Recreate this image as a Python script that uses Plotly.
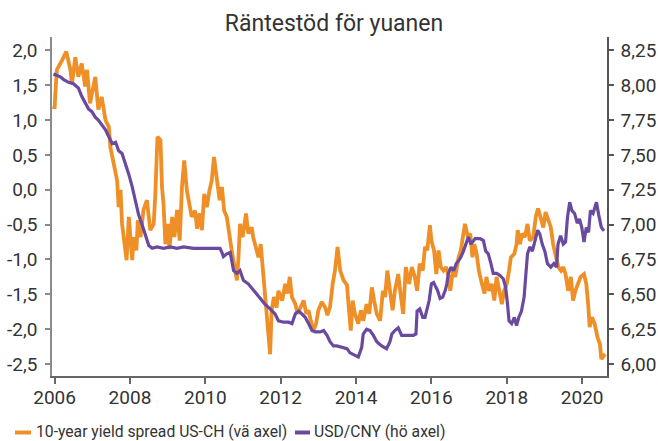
import plotly.graph_objects as go

# ---- data ----
spread_dates = [2005.98, 2006.00, 2006.02, 2006.06, 2006.20, 2006.31, 2006.42, 2006.46, 2006.55, 2006.63,
                2006.72, 2006.81, 2006.86, 2006.94, 2007.08, 2007.16, 2007.25, 2007.35, 2007.44, 2007.48,
                2007.57, 2007.66, 2007.70, 2007.75, 2007.79, 2007.85, 2007.91, 2007.97, 2008.06, 2008.10,
                2008.17, 2008.21, 2008.28, 2008.36, 2008.45, 2008.54, 2008.63, 2008.67, 2008.73, 2008.81,
                2008.85, 2008.89, 2008.94, 2009.00, 2009.05, 2009.12, 2009.18, 2009.25, 2009.32, 2009.38,
                2009.44, 2009.51, 2009.58, 2009.64, 2009.73, 2009.78, 2009.85, 2009.91, 2009.97, 2010.04,
                2010.11, 2010.17, 2010.23, 2010.31, 2010.38, 2010.44, 2010.50, 2010.57, 2010.64, 2010.70,
                2010.76, 2010.84, 2010.88, 2010.92, 2010.99, 2011.08, 2011.14, 2011.23, 2011.27, 2011.35,
                2011.41, 2011.47, 2011.52, 2011.58, 2011.63, 2011.67, 2011.72, 2011.76, 2011.82, 2011.89,
                2011.94, 2012.04, 2012.12, 2012.18, 2012.24, 2012.30, 2012.39, 2012.45, 2012.52, 2012.61,
                2012.68, 2012.74, 2012.80, 2012.87, 2012.94, 2013.00, 2013.09, 2013.18, 2013.24, 2013.31,
                2013.38, 2013.44, 2013.51, 2013.58, 2013.67, 2013.76, 2013.80, 2013.86, 2013.91, 2013.97,
                2014.06, 2014.13, 2014.19, 2014.28, 2014.35, 2014.42, 2014.48, 2014.55, 2014.64, 2014.71,
                2014.77, 2014.83, 2014.90, 2014.97, 2015.03, 2015.12, 2015.18, 2015.25, 2015.32, 2015.41,
                2015.48, 2015.56, 2015.62, 2015.69, 2015.77, 2015.83, 2015.89, 2015.96, 2016.00, 2016.07,
                2016.13, 2016.19, 2016.25, 2016.32, 2016.39, 2016.46, 2016.50, 2016.57, 2016.63, 2016.72,
                2016.78, 2016.83, 2016.89, 2016.97, 2017.03, 2017.09, 2017.14, 2017.20, 2017.26, 2017.34,
                2017.41, 2017.46, 2017.53, 2017.60, 2017.67, 2017.73, 2017.79, 2017.87, 2017.93, 2018.00,
                2018.06, 2018.11, 2018.20, 2018.26, 2018.29, 2018.35, 2018.41, 2018.48, 2018.55, 2018.61,
                2018.70, 2018.77, 2018.83, 2018.90, 2018.97, 2019.03, 2019.10, 2019.17, 2019.23, 2019.30,
                2019.37, 2019.44, 2019.50, 2019.56, 2019.63, 2019.70, 2019.76, 2019.82, 2019.89, 2019.96,
                2020.05, 2020.11, 2020.16, 2020.20, 2020.26, 2020.33, 2020.41, 2020.47, 2020.51, 2020.58,
                2020.61]
spread_vals = [1.20, 1.16, 1.38, 1.72, 1.86, 1.98, 1.72, 1.52, 1.90, 1.62,
               1.81, 1.48, 1.72, 1.24, 1.62, 1.15, 1.33, 1.00, 0.90, 0.61,
               0.37, 0.13, -0.25, 0.00, -0.49, -0.78, -1.01, -0.39, -1.01, -0.68,
               -0.87, -0.44, -0.68, -0.29, -0.15, -0.58, -0.49, -0.10, 0.76, 0.71,
               0.04, -0.20, -0.78, -0.49, -0.85, -0.39, -0.68, -0.29, -0.73, 0.04,
               0.42, -0.01, -0.25, -0.39, -0.30, -0.56, -0.34, -0.58, -0.06, -0.25,
               -0.01, 0.13, 0.47, 0.13, -0.15, 0.04, -0.30, -0.39, -0.68, -0.87,
               -1.06, -1.30, -0.97, -0.49, -0.68, -0.34, -0.63, -0.54, -0.68, -0.87,
               -0.97, -0.78, -1.11, -1.54, -1.83, -2.02, -2.36, -1.73, -1.54, -1.69,
               -1.45, -1.59, -1.35, -1.49, -1.25, -1.54, -1.64, -1.78, -1.69, -1.59,
               -1.78, -1.73, -1.88, -2.02, -1.92, -1.73, -1.61, -1.69, -1.80, -1.68,
               -1.35, -1.16, -0.82, -1.16, -1.30, -1.37, -1.64, -2.02, -1.59, -1.78,
               -1.92, -1.73, -1.88, -1.64, -1.78, -1.40, -1.59, -1.78, -1.88, -1.45,
               -1.54, -1.16, -1.45, -1.73, -1.45, -1.21, -1.49, -1.78, -1.11, -1.35,
               -1.11, -1.25, -1.45, -1.06, -1.16, -0.82, -0.87, -0.51, -0.73, -0.87,
               -1.21, -0.87, -1.11, -1.16, -1.11, -1.25, -1.45, -1.16, -1.25, -0.97,
               -0.87, -0.68, -0.49, -0.68, -0.63, -0.97, -0.78, -0.92, -1.16, -1.35,
               -1.49, -1.25, -1.45, -1.35, -1.59, -1.25, -1.40, -1.64, -1.45, -1.35,
               -1.16, -0.97, -0.92, -0.78, -0.58, -0.78, -0.63, -0.68, -0.49, -0.73,
               -0.68, -0.39, -0.27, -0.39, -0.54, -0.32, -0.44, -0.54, -0.78, -0.92,
               -1.11, -1.16, -1.11, -1.21, -1.45, -1.25, -1.59, -1.45, -1.35, -1.25,
               -1.21, -1.35, -1.64, -1.97, -1.83, -1.92, -2.12, -2.21, -2.43, -2.38,
               -2.40]

fx_dates = [2005.97, 2006.15, 2006.24, 2006.37, 2006.50, 2006.63, 2006.72, 2006.81, 2006.90, 2006.99,
            2007.08, 2007.16, 2007.25, 2007.35, 2007.44, 2007.53, 2007.62, 2007.70, 2007.79, 2007.88,
            2007.97, 2008.06, 2008.14, 2008.23, 2008.32, 2008.41, 2008.50, 2008.59, 2008.72, 2008.89,
            2009.07, 2009.25, 2009.42, 2009.69, 2010.00, 2010.26, 2010.39, 2010.44, 2010.48, 2010.57,
            2010.66, 2010.75, 2010.84, 2010.92, 2011.01, 2011.14, 2011.27, 2011.41, 2011.50, 2011.58,
            2011.72, 2011.85, 2011.94, 2012.08, 2012.21, 2012.30, 2012.39, 2012.48, 2012.56, 2012.65,
            2012.74, 2012.83, 2012.92, 2013.05, 2013.14, 2013.23, 2013.31, 2013.40, 2013.49, 2013.62,
            2013.76, 2013.84, 2013.97, 2014.06, 2014.15, 2014.19, 2014.28, 2014.37, 2014.46, 2014.55,
            2014.68, 2014.81, 2014.90, 2014.95, 2015.03, 2015.12, 2015.21, 2015.34, 2015.52, 2015.59,
            2015.62, 2015.69, 2015.77, 2015.83, 2015.89, 2015.94, 2016.00, 2016.06, 2016.12, 2016.16,
            2016.23, 2016.30, 2016.37, 2016.41, 2016.45, 2016.52, 2016.59, 2016.66, 2016.72, 2016.78,
            2016.85, 2016.92, 2016.98, 2017.05, 2017.16, 2017.29, 2017.38, 2017.44, 2017.51, 2017.58,
            2017.64, 2017.73, 2017.82, 2017.91, 2017.97, 2018.02, 2018.06, 2018.13, 2018.20, 2018.26,
            2018.32, 2018.39, 2018.46, 2018.50, 2018.55, 2018.61, 2018.68, 2018.75, 2018.82, 2018.88,
            2018.94, 2019.01, 2019.08, 2019.17, 2019.25, 2019.32, 2019.36, 2019.43, 2019.50, 2019.56,
            2019.61, 2019.67, 2019.73, 2019.80, 2019.87, 2019.93, 2019.99, 2020.05, 2020.11, 2020.17,
            2020.22, 2020.29, 2020.38, 2020.44, 2020.51, 2020.58]
fx_vals = [8.08, 8.06, 8.04, 8.02, 8.01, 7.98, 7.92, 7.88, 7.83, 7.81,
           7.77, 7.75, 7.72, 7.68, 7.63, 7.58, 7.59, 7.53, 7.51, 7.44,
           7.36, 7.27, 7.17, 7.07, 7.00, 6.93, 6.85, 6.83, 6.84, 6.83,
           6.84, 6.83, 6.84, 6.83, 6.83, 6.83, 6.83, 6.80, 6.77, 6.79,
           6.80, 6.67, 6.65, 6.67, 6.60, 6.575, 6.53, 6.49, 6.455, 6.43,
           6.395, 6.36, 6.31, 6.30, 6.30, 6.29, 6.36, 6.38, 6.36, 6.335,
           6.29, 6.24, 6.23, 6.23, 6.24, 6.205, 6.16, 6.13, 6.13, 6.12,
           6.11, 6.08, 6.06, 6.05, 6.12, 6.215, 6.25, 6.24, 6.205, 6.16,
           6.13, 6.11, 6.16, 6.215, 6.24, 6.26, 6.205, 6.205, 6.205, 6.215,
           6.38, 6.395, 6.335, 6.335, 6.41, 6.455, 6.575, 6.585, 6.55, 6.53,
           6.47, 6.48, 6.53, 6.575, 6.65, 6.695, 6.67, 6.72, 6.74, 6.765,
           6.81, 6.86, 6.91, 6.86, 6.90, 6.90, 6.885, 6.81, 6.79, 6.72,
           6.65, 6.65, 6.635, 6.61, 6.55, 6.43, 6.31, 6.29, 6.335, 6.275,
           6.335, 6.38, 6.48, 6.62, 6.79, 6.84, 6.81, 6.885, 6.96, 6.93,
           6.86, 6.81, 6.72, 6.695, 6.72, 6.695, 6.86, 6.92, 6.86, 6.875,
           7.05, 7.16, 7.10, 7.08, 7.01, 7.04, 6.98, 6.875, 6.98, 6.945,
           7.10, 7.08, 7.16, 7.07, 6.98, 6.955]

series_names = ["10-year yield spread US-CH (vä axel)", "USD/CNY (hö axel)"]
series_colors = ["#EE9027", "#6A4A9E"]
title_text = "Räntestöd för yuanen"

x_ticks = [2006, 2008, 2010, 2012, 2014, 2016, 2018, 2020]
x_ticklabels = ["2006", "2008", "2010", "2012", "2014", "2016", "2018", "2020"]
left_ticks = [2.0, 1.5, 1.0, 0.5, 0.0, -0.5, -1.0, -1.5, -2.0, -2.5]
left_ticklabels = ["2,0", "1,5", "1,0", "0,5", "0,0", "-0,5", "-1,0", "-1,5", "-2,0", "-2,5"]
right_ticks = [8.25, 8.00, 7.75, 7.50, 7.25, 7.00, 6.75, 6.50, 6.25, 6.00]
right_ticklabels = ["8,25", "8,00", "7,75", "7,50", "7,25", "7,00", "6,75", "6,50", "6,25", "6,00"]

FONT = "Roboto"
TXT = "#333333"
W, H = 658, 441
ML, MR, MT, MB = 52, 51, 37, 65
PW, PH = W - ML - MR, H - MT - MB


def px_x(p):
    return (p - ML) / PW


def px_y(p):
    return (H - MB - p) / PH


fig = go.Figure()
fig.add_trace(go.Scatter(x=spread_dates, y=spread_vals, name=series_names[0], mode="lines",
                         line=dict(color=series_colors[0], width=3.8), yaxis="y", showlegend=False))
fig.add_trace(go.Scatter(x=fx_dates, y=fx_vals, name=series_names[1], mode="lines",
                         line=dict(color=series_colors[1], width=3.2), yaxis="y2", showlegend=False))

axis_common = dict(showgrid=False, zeroline=False, showline=True, ticks="outside", automargin=False,
                   tickfont=dict(family=FONT, size=19, color=TXT))

fig.update_layout(
    width=W, height=H,
    margin=dict(l=ML, r=MR, t=MT, b=MB, pad=0, autoexpand=False),
    paper_bgcolor="white", plot_bgcolor="white",
    font=dict(family=FONT, color=TXT),
    title=dict(text=title_text, x=334 / W, xanchor="center", y=1 - 23 / H, yanchor="middle",
               font=dict(family=FONT, size=23, color=TXT)),
    xaxis=dict(range=[2005.931, 2020.66], tickvals=x_ticks, ticktext=x_ticklabels,
               linecolor="#666666", linewidth=1.5, tickcolor="#666666", ticklen=6, tickwidth=1.5,
               ticklabelstandoff=-3, **axis_common),
    yaxis=dict(range=[-2.672, 2.191], tickvals=left_ticks, ticktext=left_ticklabels,
               linecolor="#8a8a8a", linewidth=1.5, tickcolor="#8a8a8a", ticklen=5, tickwidth=1.5,
               ticklabelstandoff=4, **axis_common),
    yaxis2=dict(range=[5.914, 8.3455], tickvals=right_ticks, ticktext=right_ticklabels,
                overlaying="y", side="right",
                linecolor="#555555", linewidth=1.5, tickcolor="#555555", ticklen=5, tickwidth=1.5,
                ticklabelstandoff=3, **axis_common),
    showlegend=False,
)

# legend drawn as swatch + text below the plot
legend_items = [(15, 31, 35, series_names[0], series_colors[0]),
                (295, 310, 313, series_names[1], series_colors[1])]
for x0, x1, xt, label, col in legend_items:
    fig.add_shape(type="rect", xref="paper", yref="paper",
                  x0=px_x(x0), x1=px_x(x1), y0=px_y(434.5), y1=px_y(430.5),
                  fillcolor=col, line=dict(width=0))
    fig.add_annotation(text=label, xref="paper", yref="paper", x=px_x(xt), y=px_y(431.5),
                       xanchor="left", yanchor="middle", showarrow=False, borderpad=0,
                       font=dict(family=FONT, size=15.7, color=TXT))

fig.write_html("out.html", config={"displayModeBar": False},
               post_script="document.body.style.margin='0';document.body.style.overflow='hidden';")
